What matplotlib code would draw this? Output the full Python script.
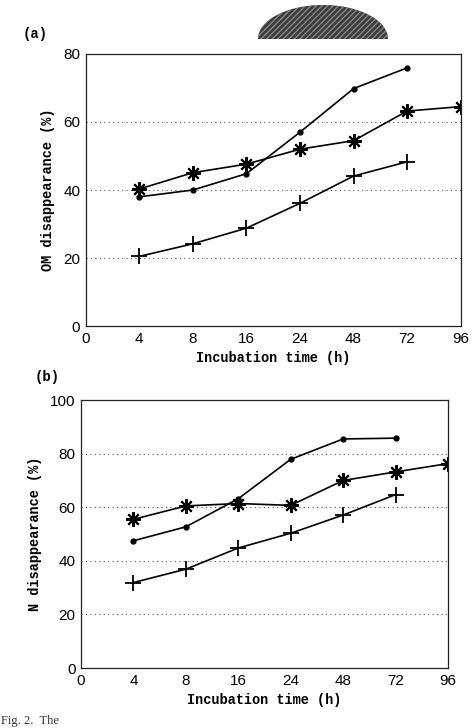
import numpy as np
import matplotlib
matplotlib.use('Agg')
import matplotlib.pyplot as plt

# incubation times (categorical, equally spaced on the axis)
times = ['0', '4', '8', '16', '24', '48', '72', '96']

# (a) OM disappearance (%)
om_dot = [38.0, 40.0, 44.8, 57.0, 69.8, 75.9]
om_star = [40.3, 45.1, 47.6, 52.0, 54.5, 63.2, 64.5]
om_plus = [20.5, 24.2, 28.8, 36.1, 44.1, 48.3]

# (b) N disappearance (%)
n_dot = [47.5, 52.7, 63.2, 77.9, 85.5, 85.8]
n_star = [55.5, 60.5, 61.4, 60.7, 70.0, 73.2, 76.3]
n_plus = [31.9, 36.9, 44.8, 50.3, 57.1, 64.7]

MONO = ['Liberation Mono', 'DejaVu Sans Mono']
SANS = ['Liberation Sans', 'DejaVu Sans']
ASTERISK = (8, 2, 0)

plt.rcParams['font.family'] = SANS


def draw_panel(ax, dot, star, plus, ymax, grid_vals, ylabel):
  idx = np.arange(1, len(times))
  ax.plot(idx[:len(dot)], dot, color='black', lw=1.2, marker='o', ms=3.5)
  ax.plot(idx[:len(star)], star, color='black', lw=1.2, marker=ASTERISK,
          ms=10.5, mew=1.5)
  ax.plot(idx[:len(plus)], plus, color='black', lw=1.2, marker='+',
          ms=11, mew=1.3)

  for g in grid_vals:
    ax.axhline(g, color='#555555', lw=0.8, ls=(0, (1, 3)), zorder=0)

  ax.set_xlim(0, len(times) - 1)
  ax.set_ylim(0, ymax)
  ax.set_xticks(np.arange(len(times)))
  ax.set_xticklabels(times)
  ax.set_yticks(np.arange(0, ymax + 1, 20))
  ax.tick_params(length=0, labelsize=11, pad=4)
  for s in ax.spines.values():
    s.set_linewidth(0.9)
    s.set_color('#222222')

  ax.set_xlabel('Incubation time (h)', family=MONO, fontweight='bold',
                fontsize=9.8, labelpad=4)
  ax.set_ylabel(ylabel, family=MONO, fontweight='bold', fontsize=9.8,
                labelpad=6)


fig = plt.figure(figsize=(4.74, 7.28), dpi=100)

ax_a = fig.add_axes([0.181, 0.552, 0.791, 0.374])
draw_panel(ax_a, om_dot, om_star, om_plus, 80, [20, 40, 60],
           'OM disappearance (%)')

ax_b = fig.add_axes([0.171, 0.0824, 0.774, 0.368])
draw_panel(ax_b, n_dot, n_star, n_plus, 100, [20, 40, 60, 80],
           'N disappearance (%)')

fig.text(35 / 474, 1 - 34 / 728, '(a)', family=MONO, fontweight='bold',
         fontsize=10, ha='center', va='center')
fig.text(47 / 474, 1 - 377 / 728, '(b)', family=MONO, fontweight='bold',
         fontsize=10, ha='center', va='center')

# dark half-disc printed above panel (a)
deco = fig.add_axes([258 / 474, 1 - 39 / 728, 130 / 474, 34 / 728])
xs = np.linspace(-1, 1, 200)
deco.fill_between(xs, 0, np.sqrt(1 - xs ** 2), facecolor='#3a3a3a',
                  edgecolor='#888888', hatch='//////', lw=0)
deco.set_xlim(-1, 1)
deco.set_ylim(0, 1)
deco.axis('off')

# start of the caption at the bottom edge
fig.text(0.002, 0.002, 'Fig. 2.  The', family=['Liberation Serif', 'DejaVu Serif'],
         fontsize=9, ha='left', va='bottom', color='#333333')

fig.savefig('out.png', dpi=100)
